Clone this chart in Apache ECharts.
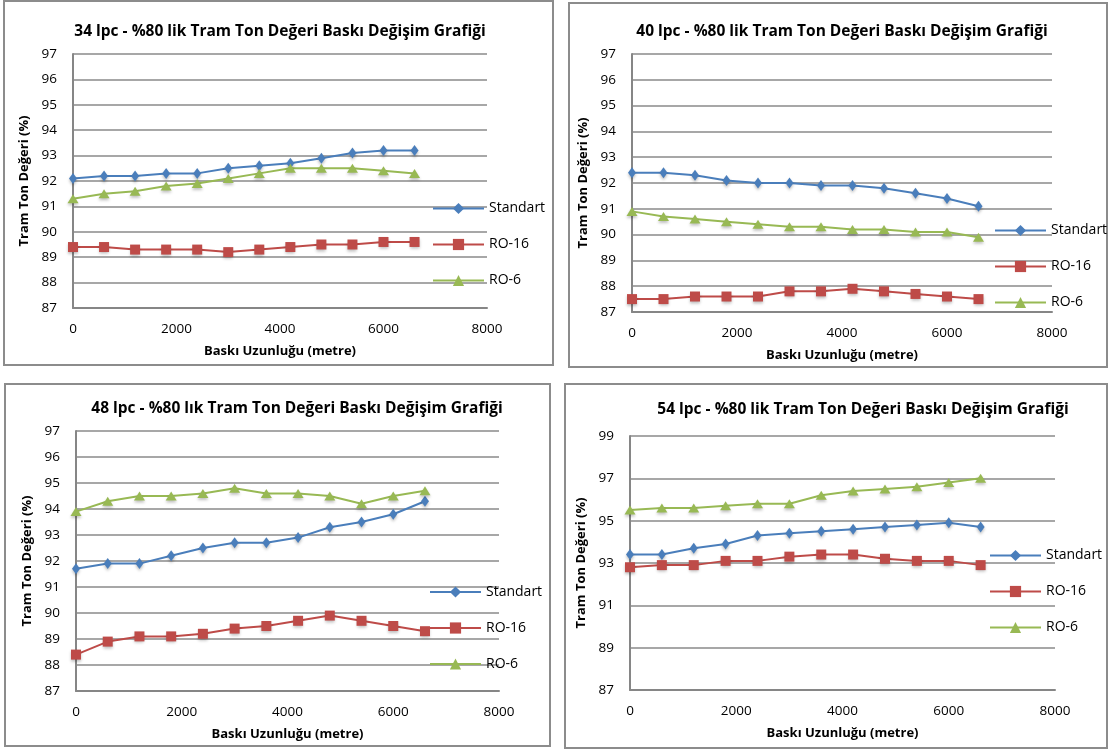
<!DOCTYPE html>
<html>
<head>
<meta charset="utf-8">
<script src="https://cdn.jsdelivr.net/npm/echarts@6/dist/echarts.min.js"></script>
<style>
  html, body { margin: 0; padding: 0; background: #fff; }
  #chart { width: 1111px; height: 751px; }
</style>
</head>
<body>
<div id="chart"></div>
<script>
// Print length (metres) at which each measurement was taken
const metre = [0, 600, 1200, 1800, 2400, 3000, 3600, 4200, 4800, 5400, 6000, 6600];

// Series names
const seriesNames = ['Standart', 'RO-16', 'RO-6'];

// 34 lpc
const lpc34Standart = [92.1, 92.2, 92.2, 92.3, 92.3, 92.5, 92.6, 92.7, 92.9, 93.1, 93.2, 93.2];
const lpc34Ro16     = [89.4, 89.4, 89.3, 89.3, 89.3, 89.2, 89.3, 89.4, 89.5, 89.5, 89.6, 89.6];
const lpc34Ro6      = [91.3, 91.5, 91.6, 91.8, 91.9, 92.1, 92.3, 92.5, 92.5, 92.5, 92.4, 92.3];

// 40 lpc
const lpc40Standart = [92.4, 92.4, 92.3, 92.1, 92.0, 92.0, 91.9, 91.9, 91.8, 91.6, 91.4, 91.1];
const lpc40Ro16     = [87.5, 87.5, 87.6, 87.6, 87.6, 87.8, 87.8, 87.9, 87.8, 87.7, 87.6, 87.5];
const lpc40Ro6      = [90.9, 90.7, 90.6, 90.5, 90.4, 90.3, 90.3, 90.2, 90.2, 90.1, 90.1, 89.9];

// 48 lpc
const lpc48Standart = [91.7, 91.9, 91.9, 92.2, 92.5, 92.7, 92.7, 92.9, 93.3, 93.5, 93.8, 94.3];
const lpc48Ro16     = [88.4, 88.9, 89.1, 89.1, 89.2, 89.4, 89.5, 89.7, 89.9, 89.7, 89.5, 89.3];
const lpc48Ro6      = [93.9, 94.3, 94.5, 94.5, 94.6, 94.8, 94.6, 94.6, 94.5, 94.2, 94.5, 94.7];

// 54 lpc
const lpc54Standart = [93.4, 93.4, 93.7, 93.9, 94.3, 94.4, 94.5, 94.6, 94.7, 94.8, 94.9, 94.7];
const lpc54Ro16     = [92.8, 92.9, 92.9, 93.1, 93.1, 93.3, 93.4, 93.4, 93.2, 93.1, 93.1, 92.9];
const lpc54Ro6      = [95.5, 95.6, 95.6, 95.7, 95.8, 95.8, 96.2, 96.4, 96.5, 96.6, 96.8, 97.0];

// Panel titles
const panelTitles = [
  '34 lpc - %80 lik Tram Ton Değeri Baskı Değişim Grafiği',
  '40 lpc - %80 lik Tram Ton Değeri Baskı Değişim Grafiği',
  '48 lpc - %80 lık Tram Ton Değeri Baskı Değişim Grafiği',
  '54 lpc - %80 lik Tram Ton Değeri Baskı Değişim Grafiği'
];

// Axis ranges per panel: [min, max, interval]
const yRanges = [[87, 97, 1], [87, 97, 1], [87, 97, 1], [87, 99, 2]];
const xRange = [0, 8000, 2000];

const xAxisTitle = 'Baskı Uzunluğu (metre)';
const yAxisTitle = 'Tram Ton Değeri (%)';

const panelData = [
  [lpc34Standart, lpc34Ro16, lpc34Ro6],
  [lpc40Standart, lpc40Ro16, lpc40Ro6],
  [lpc48Standart, lpc48Ro16, lpc48Ro6],
  [lpc54Standart, lpc54Ro16, lpc54Ro6]
];

// ---- layout & style ----
const FONT = '"Open Sans", Lato, sans-serif';
const colors = ['#4A7EBB', '#BE4B48', '#98B954'];
const symbols = ['diamond', 'rect', 'triangle'];
const symbolSizes = [[8, 11], 10, [11, 9]];

const frames = [
  { x: 4, y: 1, w: 549, h: 364 },
  { x: 569, y: 3, w: 538, h: 364 },
  { x: 5, y: 384, w: 545, h: 362 },
  { x: 565, y: 384, w: 542, h: 364 }
];
const grids = [
  { left: 73, top: 54, width: 414, height: 254 },
  { left: 632, top: 54, width: 420, height: 258 },
  { left: 76, top: 431, width: 423, height: 260 },
  { left: 630, top: 436, width: 425, height: 254 }
];
const titlePos = [[280, 24], [842, 24], [297, 401], [863, 402]];
const legendPos = [[432, 201.5], [994, 223.5], [429, 585], [989, 548.5]];

const option = {
  animation: false,
  backgroundColor: '#ffffff',
  textStyle: { fontFamily: FONT },
  graphic: frames.map(f => ({
    type: 'rect',
    shape: { x: f.x, y: f.y, width: f.w, height: f.h },
    style: { fill: 'none', stroke: '#8c8c8c', lineWidth: 2 },
    silent: true,
    z: 0
  })),
  title: panelTitles.map((t, i) => ({
    text: t,
    left: titlePos[i][0],
    top: titlePos[i][1],
    textAlign: 'center',
    padding: 0,
    textStyle: { fontFamily: FONT, fontSize: 15.5, fontWeight: 'bold', color: '#000' }
  })),
  legend: legendPos.map(p => ({
    data: seriesNames,
    orient: 'vertical',
    left: p[0],
    top: p[1],
    padding: 0,
    itemWidth: 51,
    itemHeight: 14,
    itemGap: 22,
    selectedMode: false,
    textStyle: { fontFamily: FONT, fontSize: 14, color: '#000' }
  })),
  grid: grids.map(g => Object.assign({ containLabel: false }, g)),
  xAxis: grids.map((g, i) => ({
    type: 'value',
    gridIndex: i,
    min: xRange[0],
    max: xRange[1],
    interval: xRange[2],
    name: xAxisTitle,
    nameLocation: 'middle',
    nameGap: 37,
    nameTextStyle: { fontFamily: FONT, fontSize: 13, fontWeight: 'bold', color: '#000' },
    axisLine: { show: true, lineStyle: { color: '#868686', width: 2 } },
    axisTick: { show: false },
    splitLine: { show: false },
    axisLabel: {
      margin: 14, fontFamily: FONT, fontSize: 13.5, color: '#000',
      formatter: v => String(v)
    }
  })),
  yAxis: grids.map((g, i) => ({
    type: 'value',
    gridIndex: i,
    min: yRanges[i][0],
    max: yRanges[i][1],
    interval: yRanges[i][2],
    name: yAxisTitle,
    nameLocation: 'middle',
    nameGap: 42,
    nameTextStyle: { fontFamily: FONT, fontSize: 13, fontWeight: 'bold', color: '#000' },
    axisLine: { show: true, lineStyle: { color: '#868686', width: 2 } },
    axisTick: { show: false },
    splitLine: { show: true, lineStyle: { color: '#8a8a8a', width: 1.5 } },
    axisLabel: { margin: 16, fontFamily: FONT, fontSize: 13.5, color: '#000' }
  })),
  series: []
};

panelData.forEach((set, p) => {
  set.forEach((vals, s) => {
    option.series.push({
      type: 'line',
      name: seriesNames[s],
      xAxisIndex: p,
      yAxisIndex: p,
      data: metre.map((m, k) => [m, vals[k]]),
      symbol: symbols[s],
      symbolSize: symbolSizes[s],
      showAllSymbol: true,
      lineStyle: { color: colors[s], width: 2 },
      itemStyle: {
        color: colors[s],
        shadowColor: 'rgba(0,0,0,0.25)',
        shadowBlur: 3,
        shadowOffsetY: 2
      },
      z: 3
    });
  });
});

const chart = echarts.init(document.getElementById('chart'), null, { renderer: 'canvas' });
chart.setOption(option);
</script>
</body>
</html>
